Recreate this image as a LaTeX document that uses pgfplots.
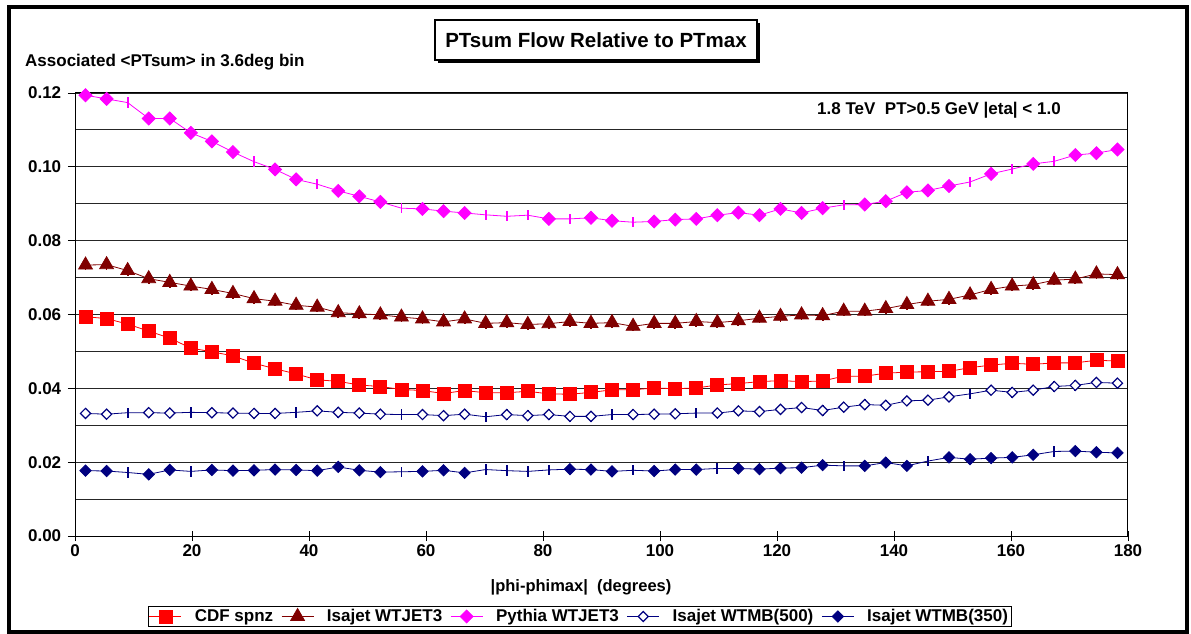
\documentclass[border=0pt]{standalone}
\usepackage{fontspec}
\setmainfont{Liberation Sans}
\usepackage{pgfplots}
\usepackage{pgfplotstable}
\pgfplotsset{compat=1.18}

\definecolor{cdfred}{RGB}{255,0,0}
\definecolor{isared}{RGB}{128,0,0}
\definecolor{pymag}{RGB}{255,0,255}
\definecolor{wtnavy}{RGB}{0,0,128}

% PTsum per 3.6 degree bin, bin centres in x
\pgfplotstableread{
x     cdf     wtjet   pythia  wtmbA   wtmbB
1.8   0.0594  0.0734  0.1194  0.0332  0.0177
5.4   0.0589  0.0735  0.1184  0.0330  0.0176
9.0   0.0574  0.0719  0.1174  0.0334  0.0172
12.6  0.0555  0.0697  0.1131  0.0334  0.0167
16.2  0.0536  0.0687  0.1131  0.0333  0.0179
19.8  0.0509  0.0677  0.1092  0.0335  0.0175
23.4  0.0499  0.0668  0.1069  0.0334  0.0179
27.0  0.0488  0.0657  0.1040  0.0333  0.0177
30.6  0.0468  0.0643  0.1014  0.0332  0.0178
34.2  0.0453  0.0636  0.0993  0.0332  0.0180
37.8  0.0439  0.0625  0.0966  0.0335  0.0179
41.4  0.0423  0.0620  0.0953  0.0339  0.0177
45.0  0.0419  0.0605  0.0935  0.0335  0.0187
48.6  0.0409  0.0602  0.0920  0.0333  0.0178
52.2  0.0405  0.0599  0.0905  0.0330  0.0173
55.8  0.0397  0.0593  0.0888  0.0329  0.0174
59.4  0.0394  0.0588  0.0886  0.0329  0.0175
63.0  0.0386  0.0580  0.0880  0.0326  0.0178
66.6  0.0394  0.0588  0.0875  0.0330  0.0171
70.2  0.0388  0.0576  0.0870  0.0323  0.0180
73.8  0.0388  0.0578  0.0866  0.0329  0.0177
77.4  0.0392  0.0573  0.0869  0.0326  0.0175
81.0  0.0385  0.0575  0.0859  0.0329  0.0179
84.6  0.0384  0.0581  0.0859  0.0324  0.0181
88.2  0.0389  0.0576  0.0862  0.0324  0.0180
91.8  0.0396  0.0578  0.0854  0.0329  0.0175
95.4  0.0396  0.0568  0.0850  0.0329  0.0178
99.0  0.0401  0.0576  0.0852  0.0330  0.0176
102.6 0.0399  0.0576  0.0857  0.0331  0.0180
106.2 0.0401  0.0581  0.0859  0.0333  0.0180
109.8 0.0409  0.0578  0.0869  0.0333  0.0183
113.4 0.0413  0.0583  0.0876  0.0339  0.0183
117.0 0.0418  0.0590  0.0869  0.0337  0.0181
120.6 0.0421  0.0595  0.0886  0.0343  0.0184
124.2 0.0418  0.0599  0.0875  0.0348  0.0185
127.8 0.0420  0.0597  0.0888  0.0340  0.0192
131.4 0.0433  0.0609  0.0897  0.0349  0.0190
135.0 0.0433  0.0609  0.0898  0.0356  0.0190
138.6 0.0441  0.0616  0.0907  0.0354  0.0199
142.2 0.0444  0.0627  0.0931  0.0366  0.0190
145.8 0.0445  0.0636  0.0936  0.0368  0.0203
149.4 0.0446  0.0641  0.0948  0.0377  0.0213
153.0 0.0456  0.0653  0.0959  0.0385  0.0208
156.6 0.0463  0.0668  0.0981  0.0395  0.0211
160.2 0.0468  0.0677  0.0994  0.0389  0.0213
163.8 0.0465  0.0681  0.1008  0.0395  0.0220
167.4 0.0469  0.0693  0.1015  0.0405  0.0229
171.0 0.0469  0.0696  0.1032  0.0408  0.0230
174.6 0.0476  0.0710  0.1037  0.0416  0.0227
178.2 0.0474  0.0708  0.1047  0.0414  0.0225
}\flowdata

\newcommand{\lab}{\fontsize{17}{19}\selectfont\bfseries}
% vertical uncertainty ticks drawn at every bin
\pgfplotsset{errticks/.style={
  error bars/y dir=both, error bars/y fixed=0.0014,
  error bars/error mark=none,
  error bars/error bar style={line width=1.8pt}}}

\begin{document}
\begin{tikzpicture}[x=1pt,y=1pt]
\useasboundingbox (0,0) rectangle (1191,633);
\fill[white] (0,0) rectangle (1191,633);
\draw[line width=4pt] (9,1.5) rectangle (1187,625.5);
\coordinate (plotorigin) at (75,97);

\begin{axis}[
  at={(plotorigin)}, anchor=south west,
  scale only axis, width=1053pt, height=443pt,
  xmin=0, xmax=180, ymin=0, ymax=0.12,
  xtick={0,20,...,180},
  ytick={0,0.02,...,0.12},
  minor ytick={0.01,0.03,...,0.11},
  ymajorgrids, yminorgrids,
  grid style={black!85, line width=0.9pt},
  minor grid style={black!85, line width=0.9pt},
  minor tick length=0pt,
  tick pos=left,
  xtick align=center,
  ytick align=outside,
  xtick style={black, line width=0.8pt, /pgfplots/major tick length=10pt},
  ytick style={black, line width=0.8pt, /pgfplots/major tick length=7pt},
  axis line style={black, line width=1pt},
  ticklabel style={font=\lab},
  /pgf/number format/assume math mode=true,
  xticklabel style={yshift=-3pt},
  yticklabel style={xshift=-6pt, /pgf/number format/.cd, fixed, fixed zerofill, precision=2},
  legend columns=5,
  legend style={at={(0.4791,-0.1817)}, anchor=center, draw=black,
    line width=0.8pt, font=\lab, inner sep=1pt,
    nodes={inner sep=2pt},
    /tikz/every even column/.append style={column sep=6pt},
    /tikz/every odd column/.append style={column sep=11pt}},
  legend image code/.code={%
    \draw[#1] (0pt,0pt) -- (32pt,0pt);
    \draw[#1, only marks] plot coordinates {(16pt,0pt)};},
]
\addplot[cdfred, line width=0.8pt, mark=square*, mark size=6.5pt,
  mark options={solid}, errticks] table[x=x, y=cdf] {\flowdata};
\addlegendentry{CDF spnz}
\addplot[isared, line width=0.8pt, mark=triangle*, mark size=8pt,
  mark options={solid}, errticks] table[x=x, y=wtjet] {\flowdata};
\addlegendentry{Isajet WTJET3}
\addplot[pymag, line width=0.8pt, mark=square*, mark size=4.6pt,
  mark options={solid, rotate=45}, errticks,
  mark indices={1,2,4,5,6,7,8,10,11,13,14,15,17,18,19,23,25,26,28,29,30,31,32,33,34,35,36,38,39,40,41,42,44,46,48,49,50}]
  table[x=x, y=pythia] {\flowdata};
\addlegendentry{Pythia WTJET3}
\addplot[wtnavy, line width=0.8pt, mark=square*, mark size=3.6pt,
  mark options={solid, rotate=45, fill=white, line width=1.2pt}, errticks,
  mark indices={1,2,4,5,7,8,9,10,12,13,14,15,17,18,19,21,22,23,24,25,27,28,29,31,32,33,34,35,36,37,38,39,40,41,42,44,45,46,47,48,49,50}]
  table[x=x, y=wtmbA] {\flowdata};
\addlegendentry{Isajet WTMB(500)}
\addplot[wtnavy, line width=0.8pt, mark=square*, mark size=4pt,
  mark options={solid, rotate=45}, errticks,
  mark indices={1,2,4,5,7,8,9,10,11,12,13,14,15,17,18,19,24,25,26,28,29,30,32,33,34,35,36,38,39,40,42,43,44,45,46,48,49,50}]
  table[x=x, y=wtmbB] {\flowdata};
\addlegendentry{Isajet WTMB(350)}
\end{axis}

% title box with drop shadow
\fill[black] (438,570) rectangle (760,610);
\draw[line width=1.5pt, fill=white] (435,573) rectangle (757,613);
\node[font=\fontsize{20.5}{23}\selectfont\bfseries] at (596,593) {PTsum Flow Relative to PTmax};

\node[anchor=west, font=\lab, inner sep=0pt] at (25,571) {Associated <PTsum> in 3.6deg bin};
\node[anchor=west, font=\lab, inner sep=0pt] at (817,523) {1.8 TeV\ \ PT>0.5 GeV |eta| < 1.0};
\node[font=\fontsize{16.5}{19}\selectfont\bfseries, inner sep=0pt] at (581,46) {|phi-phimax|\ \ (degrees)};
\end{tikzpicture}
\end{document}
